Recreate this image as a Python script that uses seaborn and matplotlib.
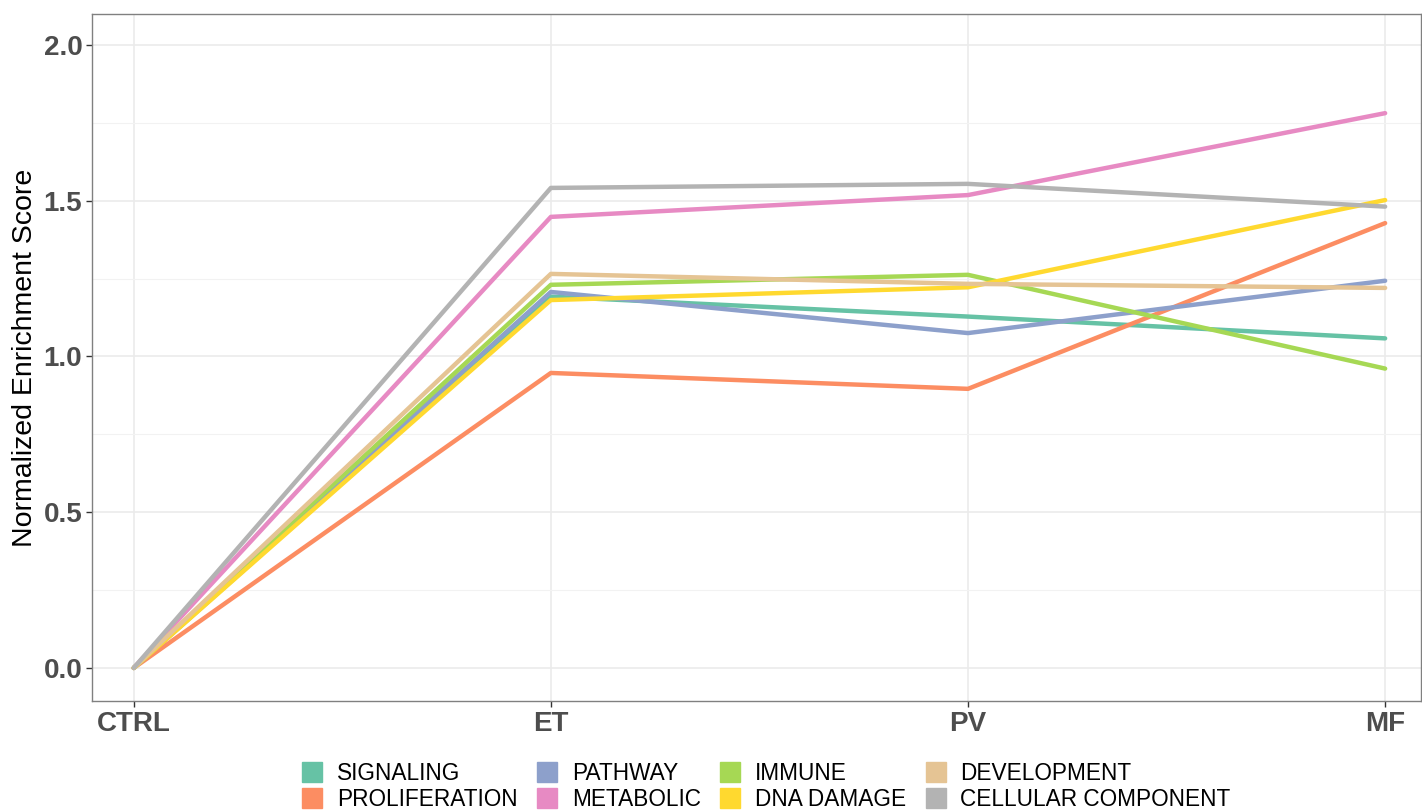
import matplotlib
matplotlib.use("Agg")
import matplotlib.pyplot as plt
from matplotlib.lines import Line2D
from matplotlib.ticker import MultipleLocator
import seaborn as sns
import pandas as pd

stages = ["CTRL", "ET", "PV", "MF"]
categories = ["SIGNALING", "PROLIFERATION", "PATHWAY", "METABOLIC",
              "IMMUNE", "DNA DAMAGE", "DEVELOPMENT", "CELLULAR COMPONENT"]
signaling = [0.0, 1.192, 1.128, 1.058]
proliferation = [0.0, 0.947, 0.896, 1.428]
pathway = [0.0, 1.207, 1.075, 1.243]
metabolic = [0.0, 1.448, 1.518, 1.781]
immune = [0.0, 1.230, 1.262, 0.961]
dna_damage = [0.0, 1.181, 1.222, 1.502]
development = [0.0, 1.265, 1.233, 1.220]
cellular_component = [0.0, 1.541, 1.554, 1.481]

series = [signaling, proliferation, pathway, metabolic,
          immune, dna_damage, development, cellular_component]
rows = []
for cat, vals in zip(categories, series):
    for i, (st, v) in enumerate(zip(stages, vals)):
        rows.append({"stage": st, "pos": i, "category": cat, "nes": v})
df = pd.DataFrame(rows)

palette = sns.color_palette("Set2", 8)

sns.set_theme(style="white")
plt.rcParams["font.family"] = ["Liberation Sans", "DejaVu Sans"]

fig = plt.figure(figsize=(14.22, 8.10), dpi=100)
ax = fig.add_axes([0.0647, 0.1346, 0.9346, 0.848])

sns.lineplot(data=df, x="pos", y="nes", hue="category", hue_order=categories,
             palette=palette, linewidth=3.2, ax=ax, legend=False, zorder=3)

ax.set_xlim(-0.1, 3.086)
ax.set_ylim(-0.106, 2.099)
ax.set_xticks(range(len(stages)))
ax.set_xticklabels(stages)
ax.yaxis.set_major_locator(MultipleLocator(0.5))
ax.yaxis.set_minor_locator(MultipleLocator(0.25))
ax.yaxis.set_major_formatter(matplotlib.ticker.FormatStrFormatter("%.1f"))

ax.grid(which="major", axis="both", color="#ebebeb", linewidth=1.2, zorder=0)
ax.grid(which="minor", axis="y", color="#f2f2f2", linewidth=0.8, zorder=0)
ax.set_axisbelow(True)

for sp in ax.spines.values():
    sp.set_color("#808080")
    sp.set_linewidth(1.0)

ax.tick_params(axis="both", which="major", length=4, width=1, color="#333333",
               direction="out", pad=3, bottom=True, left=True)
ax.tick_params(axis="y", which="minor", length=0)
for lab in ax.get_xticklabels() + ax.get_yticklabels():
    lab.set_fontweight("bold")
    lab.set_color("#4d4d4d")
    lab.set_fontsize(20)

ax.set_xlabel("")
ax.set_ylabel("Normalized Enrichment Score", fontsize=20.5, color="black", labelpad=4)

handles = [Line2D([0], [0], marker="s", linestyle="none", markersize=15,
                  markerfacecolor=c, markeredgecolor=c) for c in palette]
leg = fig.legend(handles, categories, loc="lower center", bbox_to_anchor=(0.538, -0.026),
                 ncol=4, frameon=False, fontsize=16.3, handletextpad=0.55,
                 columnspacing=0.75, labelspacing=0.12, handlelength=1.1)
for t in leg.get_texts():
    t.set_color("black")

fig.savefig("out.png", dpi=100)
